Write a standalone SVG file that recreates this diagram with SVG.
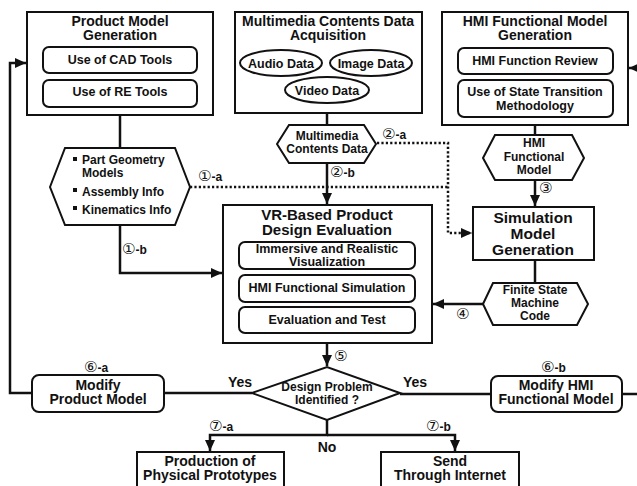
<svg xmlns="http://www.w3.org/2000/svg" width="637" height="486" viewBox="0 0 637 486">
<style>
.box{fill:#fff;stroke:#111;stroke-width:2}
.rb{fill:#fff;stroke:#111;stroke-width:2}
.t{font-family:"Liberation Sans",Arial,sans-serif;font-weight:bold;text-anchor:middle;fill:#111}
.tl{font-family:"Liberation Sans",Arial,sans-serif;font-weight:bold;fill:#111}
.h{font-size:14px}
.s{font-size:12.5px}
.x{font-size:12px}
.n{font-family:"DejaVu Sans","Noto Sans CJK JP",sans-serif;font-weight:normal;font-size:15px}
.c{fill:none;stroke:#111;stroke-width:2.5}
.d{fill:none;stroke:#111;stroke-width:2.5;stroke-dasharray:2.2 2.2}
</style>
<defs>
<marker id="ah" markerUnits="userSpaceOnUse" markerWidth="12" markerHeight="10" refX="11" refY="5" orient="auto">
<path d="M0,0 L11,5 L0,10 Z" fill="#111"/>
</marker>
</defs>
<rect width="637" height="486" fill="#fff"/>

<g id="connectors">
<path class="c" d="M120,115 V148"/>
<path class="c" d="M120,225 V273 H222" marker-end="url(#ah)"/>
<path class="c" d="M327,113 V125"/>
<path class="c" d="M327,163 V204" marker-end="url(#ah)"/>
<path class="d" d="M377,143 H448 V233 H472" marker-end="url(#ah)"/>
<path class="d" d="M190,187 H448"/>
<path class="c" d="M535,125 V135"/>
<path class="c" d="M535,180 V206" marker-end="url(#ah)"/>
<path class="c" d="M535,260 V283"/>
<path class="c" d="M483,304 H433" marker-end="url(#ah)"/>
<path class="c" d="M327,343 V366" marker-end="url(#ah)"/>
<path class="c" d="M252,393 H164"/>
<path class="c" d="M32,393 H10 V63 H26" marker-end="url(#ah)"/>
<path class="c" d="M400,394 H491"/>
<path class="c" d="M622,394 H642 V68 H629" marker-end="url(#ah)"/>
<path class="c" d="M327,420 V435 H210 V451" marker-end="url(#ah)"/>
<path class="c" d="M327,435 H455 V451" marker-end="url(#ah)"/>
</g>

<g id="product-model-generation">
<rect class="box" x="27" y="12" width="186" height="103"/>
<text class="t h" x="120" y="26">Product Model</text>
<text class="t h" x="120" y="40">Generation</text>
<rect class="rb" x="43" y="47" width="154" height="26" rx="6"/>
<text class="t s" x="120" y="64">Use of CAD Tools</text>
<rect class="rb" x="43" y="80" width="154" height="27" rx="6"/>
<text class="t s" x="120" y="96">Use of RE Tools</text>
</g>

<g id="multimedia-acquisition">
<rect class="box" x="235" y="12" width="187" height="101"/>
<text class="t h" x="328" y="26">Multimedia Contents Data</text>
<text class="t h" x="328" y="40">Acquisition</text>
<ellipse class="rb" cx="281" cy="63" rx="41" ry="13"/>
<text class="t s" x="281" y="67.5">Audio Data</text>
<ellipse class="rb" cx="371" cy="63" rx="41" ry="13"/>
<text class="t s" x="371" y="67.5">Image Data</text>
<ellipse class="rb" cx="327" cy="90" rx="42" ry="13"/>
<text class="t s" x="327" y="94.5">Video Data</text>
</g>

<g id="hmi-functional-model-generation">
<rect class="box" x="442" y="12" width="186" height="113"/>
<text class="t h" x="535" y="26">HMI Functional Model</text>
<text class="t h" x="535" y="40">Generation</text>
<rect class="rb" x="458" y="48" width="155" height="26" rx="6"/>
<text class="t s" x="535" y="65">HMI Function Review</text>
<rect class="rb" x="458" y="80" width="155" height="37" rx="6"/>
<text class="t s" x="535" y="96">Use of State Transition</text>
<text class="t s" x="535" y="110">Methodology</text>
</g>

<g id="part-geometry-data">
<polygon class="box" points="50,187 65,148 175,148 190,187 175,225 65,225"/>
<rect x="73" y="157" width="4" height="4" fill="#111"/>
<text class="tl x" x="82" y="164">Part Geometry</text>
<text class="tl x" x="82" y="177">Models</text>
<rect x="73" y="188" width="4" height="4" fill="#111"/>
<text class="tl x" x="82" y="196">Assembly Info</text>
<rect x="73" y="206" width="4" height="4" fill="#111"/>
<text class="tl x" x="82" y="214">Kinematics Info</text>
</g>

<g id="multimedia-contents-data">
<polygon class="box" points="277,144 289,125 364,125 376,144 364,163 289,163"/>
<text class="t x" x="327" y="140">Multimedia</text>
<text class="t x" x="327" y="153">Contents Data</text>
</g>

<g id="hmi-functional-model">
<polygon class="box" points="483,158 495,135 572,135 584,158 572,180 495,180"/>
<text class="t x" x="534" y="147">HMI</text>
<text class="t x" x="534" y="161">Functional</text>
<text class="t x" x="534" y="174">Model</text>
</g>

<g id="vr-evaluation">
<rect class="box" x="223" y="205" width="209" height="138"/>
<text class="t" style="font-size:15px" x="327" y="220">VR-Based Product</text>
<text class="t" style="font-size:15px" x="327" y="235">Design Evaluation</text>
<rect class="rb" x="239" y="242" width="176" height="27" rx="6"/>
<text class="t s" x="327" y="253">Immersive and Realistic</text>
<text class="t s" x="327" y="266">Visualization</text>
<rect class="rb" x="239" y="275" width="176" height="27" rx="6"/>
<text class="t s" x="327" y="292">HMI Functional Simulation</text>
<rect class="rb" x="239" y="307" width="176" height="26" rx="6"/>
<text class="t s" x="327" y="324">Evaluation and Test</text>
</g>

<g id="simulation-model-generation">
<rect class="box" x="473" y="207" width="121" height="53"/>
<text class="t" style="font-size:15.5px" x="533" y="223">Simulation</text>
<text class="t" style="font-size:15.5px" x="533" y="239">Model</text>
<text class="t" style="font-size:15.5px" x="533" y="255">Generation</text>
</g>

<g id="finite-state-machine-code">
<polygon class="box" points="483,304 493,283 577,283 588,304 577,325 493,325"/>
<text class="t x" x="535" y="294">Finite State</text>
<text class="t x" x="535" y="307">Machine</text>
<text class="t x" x="535" y="320">Code</text>
</g>

<g id="design-problem">
<polygon class="box" points="252,393 327,367 400,393 327,420"/>
<text class="t x" x="327" y="391">Design Problem</text>
<text class="t x" x="327" y="404">Identified ?</text>
</g>

<g id="modify-product-model">
<rect class="rb" x="32" y="375" width="132" height="37" rx="7"/>
<text class="t" style="font-size:14px" x="98" y="390">Modify</text>
<text class="t" style="font-size:14px" x="98" y="404">Product Model</text>
</g>

<g id="modify-hmi-model">
<rect class="rb" x="491" y="376" width="131" height="36" rx="7"/>
<text class="t" style="font-size:14px" x="556" y="390">Modify HMI</text>
<text class="t" style="font-size:14px" x="556" y="404">Functional Model</text>
</g>

<g id="production-prototypes">
<rect class="box" x="137" y="452" width="147" height="40"/>
<text class="t h" x="210" y="466">Production of</text>
<text class="t h" x="210" y="480">Physical Prototypes</text>
</g>

<g id="send-internet">
<rect class="box" x="381" y="452" width="138" height="40"/>
<text class="t h" x="450" y="466">Send</text>
<text class="t h" x="450" y="480">Through Internet</text>
</g>

<g id="labels">
<text class="tl x" x="198" y="181"><tspan class="n">①</tspan>-a</text>
<text class="tl x" x="122" y="254"><tspan class="n">①</tspan>-b</text>
<text class="tl x" x="382" y="139"><tspan class="n">②</tspan>-a</text>
<text class="tl x" x="330" y="177"><tspan class="n">②</tspan>-b</text>
<text class="tl x" x="539" y="193"><tspan class="n">③</tspan></text>
<text class="tl x" x="456" y="319"><tspan class="n">④</tspan></text>
<text class="tl x" x="334" y="361"><tspan class="n">⑤</tspan></text>
<text class="tl x" x="84" y="372"><tspan class="n">⑥</tspan>-a</text>
<text class="tl x" x="541" y="372"><tspan class="n">⑥</tspan>-b</text>
<text class="tl x" x="209" y="431"><tspan class="n">⑦</tspan>-a</text>
<text class="tl x" x="426" y="431"><tspan class="n">⑦</tspan>-b</text>
<text class="t" style="font-size:14px" x="240" y="387">Yes</text>
<text class="t" style="font-size:14px" x="415" y="387">Yes</text>
<text class="t" style="font-size:14px" x="327" y="452">No</text>
</g>
</svg>
